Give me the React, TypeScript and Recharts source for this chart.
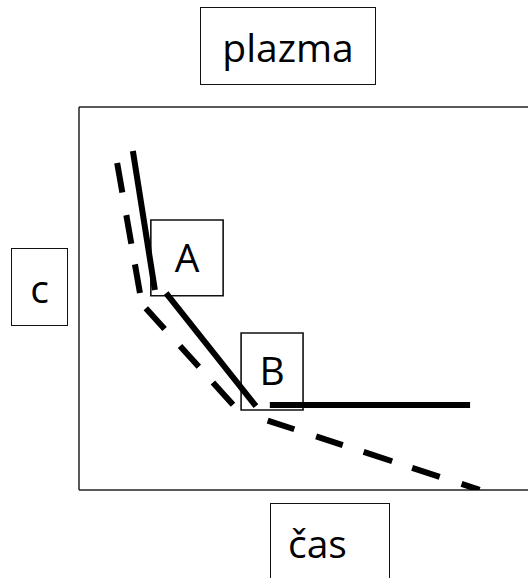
import { LineChart, Line, XAxis, YAxis, ReferenceLine, ReferenceArea } from 'recharts';

// sketch of concentration over time: plasma
const solidTime = [12.0, 16.9, 16.9, 19.4, 39.4, 39.4, 42.5, 87.1];
const solidConc = [88.5, 52.2, null, 51.4, 21.9, null, 22.2, 22.2];

const dashedTime = [8.5, 14.0, 35.6, 89.3];
const dashedConc = [85.4, 48.6, 20.6, 0];

const titleText = 'plazma';
const yLabel = 'c';
const xLabel = 'čas';
const markA = { name: 'A', t: [16.0, 32.1], c: [50.7, 70.5] };
const markB = { name: 'B', t: [36.1, 49.9], c: [20.9, 41.0] };

const solidData = solidTime.map((t, i) => ({ t, c: solidConc[i] }));
const dashedData = dashedTime.map((t, i) => ({ t, c: dashedConc[i] }));

const font = '"Open Sans", sans-serif';
// hand drawn dashes are uneven, the gap at the second bend is wider
const dashPattern = '30 23 29 21 29 17 28 23 28 21 30 39 28 23 28 22 30 21 29 23 19 100';

function Box({ text, left, top, width, height, padLeft }: {
  text: string; left: number; top: number; width: number; height: number; padLeft?: number;
}) {
  return (
    <div
      style={{
        position: 'absolute',
        left,
        top,
        width,
        height,
        boxSizing: 'border-box',
        border: '1.5px solid #111',
        display: 'flex',
        alignItems: 'center',
        justifyContent: padLeft ? 'flex-start' : 'center',
        paddingLeft: padLeft ?? 0,
        fontFamily: font,
        fontSize: 39,
        color: '#000',
        background: '#fff',
      }}
    >
      {text}
    </div>
  );
}

export default function App() {
  const boxLabel = (value: string) => ({
    value,
    position: 'center' as const,
    fontSize: 39,
    fontFamily: font,
    fill: '#000',
  });

  return (
    <div style={{ position: 'absolute', left: 0, top: 0, width: 528, height: 578, overflow: 'hidden', background: '#fff' }}>
      <LineChart width={528} height={578} margin={{ top: 107, right: 0, bottom: 88, left: 79 }}>
        <XAxis type="number" dataKey="t" domain={[0, 100]} hide allowDataOverflow />
        <YAxis type="number" dataKey="c" domain={[0, 100]} hide allowDataOverflow />
        <ReferenceLine y={100} stroke="#222" strokeWidth={1.5} ifOverflow="visible" />
        <ReferenceLine y={0} stroke="#222" strokeWidth={1.5} ifOverflow="visible" />
        <ReferenceLine x={0} stroke="#222" strokeWidth={1.5} ifOverflow="visible" />
        <ReferenceArea
          x1={markA.t[0]} x2={markA.t[1]} y1={markA.c[0]} y2={markA.c[1]}
          stroke="#111" strokeWidth={1.6} fill="none" fillOpacity={0} ifOverflow="visible"
          label={boxLabel(markA.name)}
        />
        <ReferenceArea
          x1={markB.t[0]} x2={markB.t[1]} y1={markB.c[0]} y2={markB.c[1]}
          stroke="#111" strokeWidth={1.6} fill="none" fillOpacity={0} ifOverflow="visible"
          label={boxLabel(markB.name)}
        />
        <Line
          data={solidData}
          dataKey="c"
          stroke="#000"
          strokeWidth={6}
          dot={false}
          activeDot={false}
          isAnimationActive={false}
        />
        <Line
          data={dashedData}
          dataKey="c"
          stroke="#000"
          strokeWidth={6}
          strokeDasharray={dashPattern}
          dot={false}
          activeDot={false}
          isAnimationActive={false}
        />
      </LineChart>
      <Box text={titleText} left={200} top={7} width={176} height={78} />
      <Box text={yLabel} left={11} top={248} width={57} height={78} />
      <Box text={xLabel} left={270} top={503} width={120} height={78} padLeft={17} />
    </div>
  );
}
